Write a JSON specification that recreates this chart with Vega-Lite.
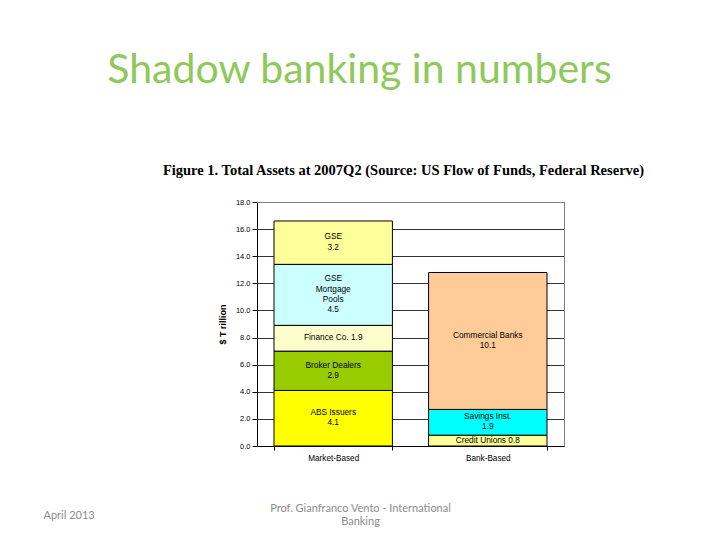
{
  "$schema": "https://vega.github.io/schema/vega-lite/v6.json",
  "width": 307,
  "height": 244,
  "autosize": {"type": "none"},
  "padding": {"left": 257, "top": 202, "right": 156, "bottom": 94},
  "background": "white",
  "title": {
    "text": "Shadow banking in numbers",
    "font": "Lato",
    "fontSize": 41,
    "fontWeight": "normal",
    "color": "#8FC95A",
    "anchor": "middle",
    "frame": "group",
    "dx": -51,
    "offset": 70
  },
  "data": {
    "values": [
      {"sector": "Market-Based", "segment": "ABS Issuers", "value": 4.1, "order": 1, "label": ["ABS Issuers", "4.1"]},
      {"sector": "Market-Based", "segment": "Broker Dealers", "value": 2.9, "order": 2, "label": ["Broker Dealers", "2.9"]},
      {"sector": "Market-Based", "segment": "Finance Co.", "value": 1.9, "order": 3, "label": ["Finance Co. 1.9"]},
      {"sector": "Market-Based", "segment": "GSE Mortgage Pools", "value": 4.5, "order": 4, "label": ["GSE", "Mortgage", "Pools", "4.5"]},
      {"sector": "Market-Based", "segment": "GSE", "value": 3.2, "order": 5, "label": ["GSE", "3.2"]},
      {"sector": "Bank-Based", "segment": "Credit Unions", "value": 0.8, "order": 1, "label": ["Credit Unions 0.8"]},
      {"sector": "Bank-Based", "segment": "Savings Inst.", "value": 1.9, "order": 2, "label": ["Savings Inst.", "1.9"]},
      {"sector": "Bank-Based", "segment": "Commercial Banks", "value": 10.1, "order": 3, "label": ["Commercial Banks", "10.1"]}
    ]
  },
  "transform": [
    {"stack": "value", "groupby": ["sector"], "sort": [{"field": "order", "order": "ascending"}], "as": ["v0", "v1"]},
    {"calculate": "(datum.v0 + datum.v1) / 2", "as": "mid"},
    {"calculate": "length(datum.label)", "as": "nlines"}
  ],
  "layer": [
    {
      "mark": {"type": "bar", "stroke": "black", "strokeWidth": 1},
      "encoding": {
        "x": {
          "field": "sector", "type": "nominal", "sort": ["Market-Based", "Bank-Based"],
          "scale": {"paddingInner": 0.234, "paddingOuter": 0.11},
          "axis": {
            "orient": "bottom",
            "labelFont": "Liberation Sans", "labelFontSize": 8.2, "labelColor": "black", "labelAngle": 0, "labelPadding": 4,
            "tickBand": "extent", "tickColor": "black", "tickSize": 4,
            "domainColor": "black",
            "title": ["Prof. Gianfranco Vento - International", "Banking"],
            "titleFont": "Lato", "titleFontSize": 11, "titleFontWeight": "normal", "titleColor": "#8C8C8C",
            "titleX": 103, "titleY": 56, "titleAlign": "center", "titleBaseline": "top", "titleLineHeight": 13
          }
        },
        "y": {
          "field": "v0", "type": "quantitative", "scale": {"domain": [0, 18], "nice": false},
          "axis": {
            "orient": "left",
            "values": [0, 2, 4, 6, 8, 10, 12, 14, 16, 18], "format": ".1f",
            "labelFont": "Liberation Sans", "labelFontSize": 7.5, "labelColor": "black", "labelPadding": 2,
            "tickColor": "black", "tickSize": 5, "domainColor": "black",
            "grid": true, "gridColor": "black", "gridWidth": 0.8,
            "title": "$ T rillion", "titleFont": "Liberation Sans", "titleFontSize": 9, "titleFontWeight": "bold", "titleColor": "black", "titlePadding": 8
          }
        },
        "y2": {"field": "v1"},
        "color": {
          "field": "segment", "type": "nominal", "legend": null,
          "scale": {
            "domain": ["ABS Issuers", "Broker Dealers", "Finance Co.", "GSE Mortgage Pools", "GSE", "Credit Unions", "Savings Inst.", "Commercial Banks"],
            "range": ["#FFFF00", "#99CC00", "#FFFFCC", "#CCFFFF", "#FFFF99", "#FFFF99", "#00FFFF", "#FFCC99"]
          }
        }
      }
    },
    {
      "transform": [{"filter": "datum.nlines == 2"}],
      "mark": {"type": "text", "font": "Liberation Sans", "fontSize": 8.3, "lineHeight": 10.4, "baseline": "middle", "align": "center", "color": "black", "dy": -5.2},
      "encoding": {
        "x": {
          "field": "sector", "type": "nominal", "sort": ["Market-Based", "Bank-Based"],
          "axis": {
            "orient": "top", "labels": false, "ticks": false, "grid": false, "domainColor": "#808080", "zindex": 1,
            "title": "Figure 1.  Total Assets at 2007Q2 (Source: US Flow of Funds, Federal Reserve)",
            "titleFont": "Liberation Serif", "titleFontSize": 14.5, "titleFontWeight": "bold", "titleColor": "black",
            "titleX": 146, "titleY": -28, "titleAlign": "center", "titleBaseline": "alphabetic"
          }
        },
        "y": {
          "field": "mid", "type": "quantitative", "scale": {"domain": [0, 18], "nice": false},
          "axis": {
            "orient": "right", "labels": false, "ticks": false, "grid": false, "domainColor": "#808080", "zindex": 1,
            "title": "April 2013", "titleAngle": 0,
            "titleFont": "Lato", "titleFontSize": 11, "titleFontWeight": "normal", "titleColor": "#8C8C8C",
            "titleX": -521, "titleY": 307, "titleAlign": "left", "titleBaseline": "top"
          }
        },
        "text": {"field": "label"}
      }
    },
    {
      "transform": [{"filter": "datum.nlines == 1"}],
      "mark": {"type": "text", "font": "Liberation Sans", "fontSize": 8.3, "lineHeight": 10.4, "baseline": "middle", "align": "center", "color": "black"},
      "encoding": {
        "x": {"field": "sector", "type": "nominal", "sort": ["Market-Based", "Bank-Based"], "axis": null},
        "y": {"field": "mid", "type": "quantitative", "scale": {"domain": [0, 18], "nice": false}, "axis": null},
        "text": {"field": "label"}
      }
    },
    {
      "transform": [{"filter": "datum.nlines == 4"}],
      "mark": {"type": "text", "font": "Liberation Sans", "fontSize": 8.3, "lineHeight": 10.4, "baseline": "middle", "align": "center", "color": "black", "dy": -15.6},
      "encoding": {
        "x": {"field": "sector", "type": "nominal", "sort": ["Market-Based", "Bank-Based"], "axis": null},
        "y": {"field": "mid", "type": "quantitative", "scale": {"domain": [0, 18], "nice": false}, "axis": null},
        "text": {"field": "label"}
      }
    }
  ],
  "resolve": {"axis": {"x": "independent", "y": "independent"}},
  "config": {"view": {"stroke": null}}
}
